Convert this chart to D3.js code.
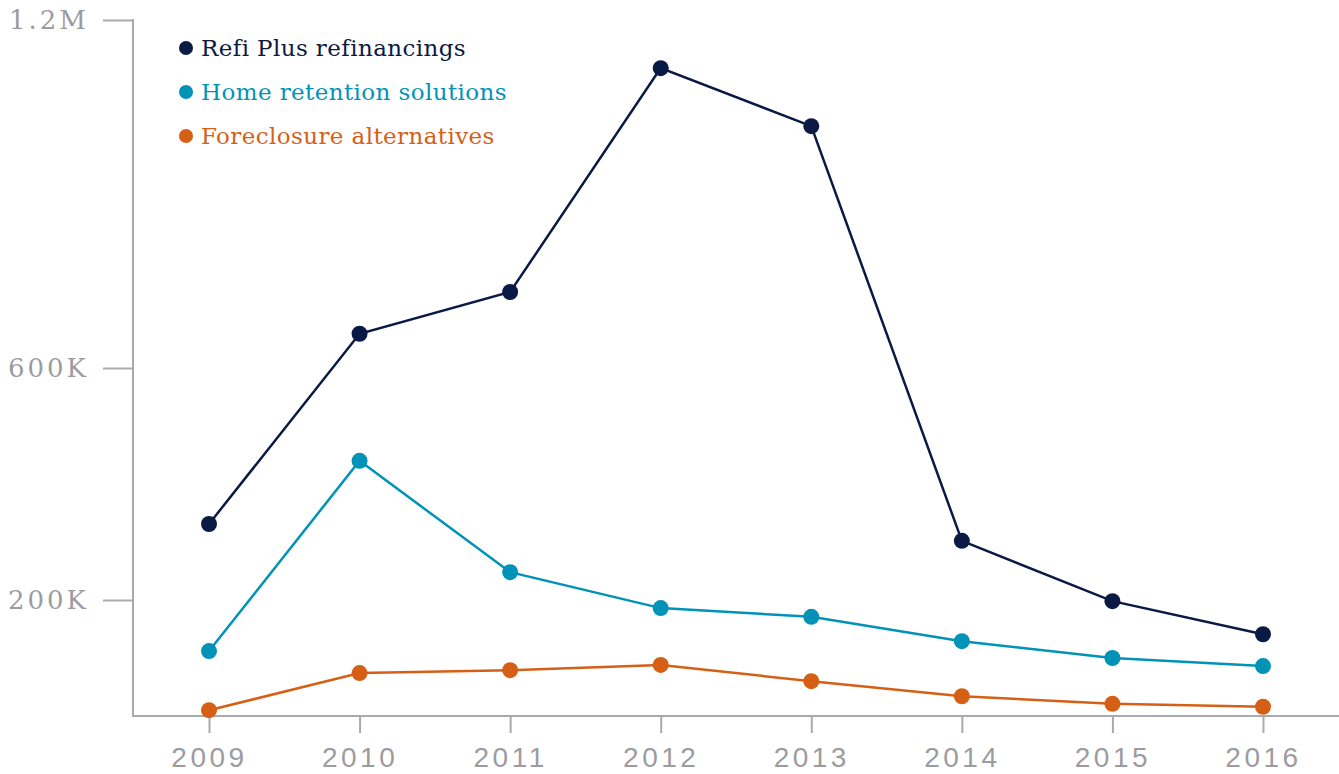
<!DOCTYPE html>
<html>
<head>
<meta charset="utf-8">
<script src="https://cdn.jsdelivr.net/npm/d3@7"></script>
<style>
  body { margin: 0; background: #fff; }
  .axis-y text { font-family: "DejaVu Serif", serif; font-size: 26px; font-weight: 300; fill: #9c9c9f; letter-spacing: 3px; }
  .axis-x text { font-family: "Liberation Sans", "Noto Sans", sans-serif; font-size: 28px; fill: #9c9c9f; letter-spacing: 3.5px; }
  .legend text { font-family: "DejaVu Serif", serif; font-size: 23px; letter-spacing: 0.4px; }
</style>
</head>
<body>
<div id="chart"></div>
<script>
var years = [2009, 2010, 2011, 2012, 2013, 2014, 2015, 2016];
var refiPlus = [331000, 659000, 731000, 1117000, 1017000, 302000, 198000, 141000];
var homeRetention = [112000, 440000, 248000, 186000, 171000, 129000, 100000, 86000];
var foreclosureAlt = [10000, 74000, 79000, 88000, 60000, 34000, 21000, 16000];
var seriesNames = ["Refi Plus refinancings", "Home retention solutions", "Foreclosure alternatives"];
var seriesColors = ["#0b1a44", "#0093b7", "#d65f16"];
var yTicks = [200000, 600000, 1200000];
var yTickLabels = ["200K", "600K", "1.2M"];

var width = 1339, height = 774;
var series = [refiPlus, homeRetention, foreclosureAlt];

var svg = d3.select("#chart").append("svg")
    .attr("width", width)
    .attr("height", height);

var x = d3.scalePoint()
    .domain(years)
    .range([209, 1263]);

var y = d3.scaleLinear()
    .domain([0, 1200000])
    .range([716, 20]);

var axisColor = "#a9aaad";

// y axis
var yAxis = svg.append("g")
    .attr("class", "axis-y")
    .attr("transform", "translate(133,0)")
    .call(d3.axisLeft(y)
        .tickValues(yTicks)
        .tickSize(30)
        .tickPadding(14)
        .tickFormat(function (d, i) { return yTickLabels[i]; }));
yAxis.select(".domain").remove();
yAxis.selectAll("line").attr("stroke", axisColor).attr("stroke-width", 2);
yAxis.append("line")
    .attr("x1", 0).attr("x2", 0)
    .attr("y1", y(1200000) - 1).attr("y2", 716)
    .attr("stroke", axisColor).attr("stroke-width", 2);

// x axis
var xAxis = svg.append("g")
    .attr("class", "axis-x")
    .attr("transform", "translate(0,716)")
    .call(d3.axisBottom(x)
        .tickSize(17)
        .tickPadding(14)
        .tickFormat(d3.format("d")));
xAxis.select(".domain").remove();
xAxis.selectAll("line").attr("stroke", axisColor).attr("stroke-width", 2);
xAxis.append("line")
    .attr("x1", 132).attr("x2", width)
    .attr("y1", 0).attr("y2", 0)
    .attr("stroke", axisColor).attr("stroke-width", 2);

var line = d3.line()
    .x(function (d, i) { return x(years[i]); })
    .y(function (d) { return y(d); });

series.forEach(function (s, k) {
    svg.append("path")
        .datum(s)
        .attr("d", line)
        .attr("fill", "none")
        .attr("stroke", seriesColors[k])
        .attr("stroke-width", 2.5);

    svg.selectAll(".dot" + k)
        .data(s)
        .enter()
        .append("circle")
        .attr("cx", function (d, i) { return x(years[i]); })
        .attr("cy", function (d) { return y(d); })
        .attr("r", 8)
        .attr("fill", seriesColors[k]);
});

// legend
var legend = svg.append("g")
    .attr("class", "legend")
    .attr("transform", "translate(186,48)");

var item = legend.selectAll("g")
    .data(seriesNames)
    .enter()
    .append("g")
    .attr("transform", function (d, i) { return "translate(0," + (i * 44) + ")"; });

item.append("circle")
    .attr("r", 7)
    .attr("fill", function (d, i) { return seriesColors[i]; });

item.append("text")
    .attr("x", 15)
    .attr("dy", "0.35em")
    .attr("fill", function (d, i) { return seriesColors[i]; })
    .text(function (d) { return d; });
</script>
</body>
</html>
